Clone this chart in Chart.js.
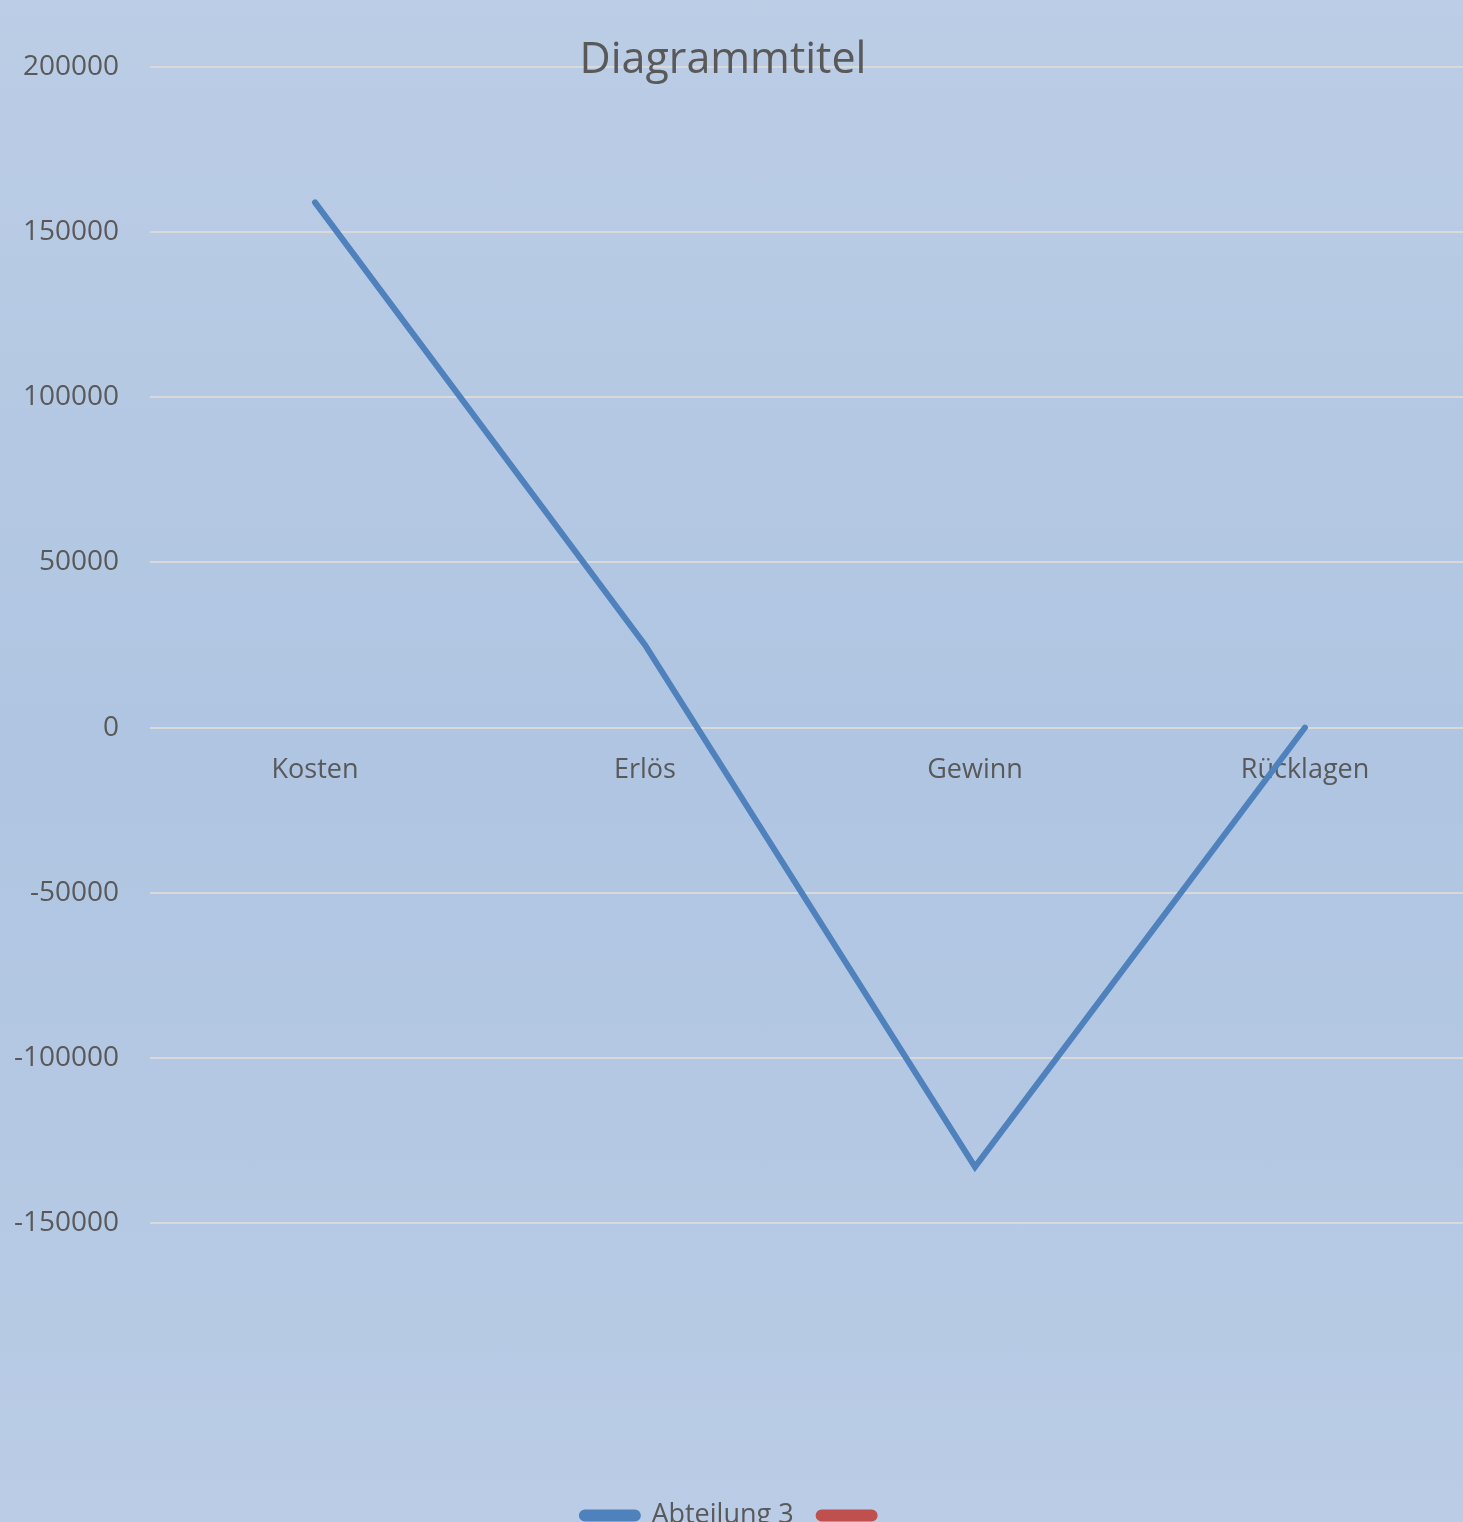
<!DOCTYPE html>
<html>
<head>
<meta charset="utf-8">
<script src="https://cdn.jsdelivr.net/npm/chart.js@4.4.0/dist/chart.umd.min.js"></script>
<style>
  html, body { margin: 0; padding: 0; overflow: hidden; width: 1463px; height: 1522px; }
  body { background: linear-gradient(to bottom, #bccde6 0%, #afc5e1 50%, #bacce6 100%); position: relative; }
  #wrap { position: absolute; left: 0; top: 0; width: 1470px; height: 1539px; }
  #title { position: absolute; left: 0; width: 1446px; top: 28px; text-align: center;
           font-family: "Open Sans", sans-serif; font-size: 43px; color: #595959; z-index: 2; line-height: 58px; }
</style>
</head>
<body>
<div id="title">Diagrammtitel</div>
<div id="wrap"><canvas id="c" width="1470" height="1539"></canvas></div>
<script>
const categories = ["Kosten", "Erlös", "Gewinn", "Rücklagen"];
const seriesNames = ["Abteilung 3", ""];
const abteilung3 = [159000, 25000, -133000, 0];
const series2 = [null, null, null, null];
const yMin = -150000, yMax = 200000, yStep = 50000;

const FONT = "'Open Sans', sans-serif";
const TEXT = "#595959";

new Chart(document.getElementById("c"), {
  type: "line",
  data: {
    labels: categories,
    datasets: [
      { label: seriesNames[0], data: abteilung3, borderColor: "#4f81bd", backgroundColor: "#4f81bd",
        borderWidth: 6, pointRadius: 0, tension: 0, borderCapStyle: "round", borderJoinStyle: "miter" },
      { label: seriesNames[1], data: series2, borderColor: "#c0504d", backgroundColor: "#c0504d",
        borderWidth: 6, pointRadius: 0 }
    ]
  },
  options: {
    responsive: false,
    animation: false,
    layout: { padding: { top: 67, left: 0, right: 0, bottom: 0 } },
    plugins: {
      title: { display: false },
      tooltip: { enabled: false },
      legend: {
        position: "bottom",
        title: { display: true, text: "", font: { size: 10, lineHeight: 1.2 }, padding: { top: 242, bottom: 0 } },
        labels: {
          font: { family: FONT, size: 27 },
          color: TEXT,
          boxWidth: 56, boxHeight: 6, padding: 25,
          useBorderRadius: true, borderRadius: 3
        }
      }
    },
    scales: {
      x: {
        position: { y: 0 },
        offset: true,
        grid: { display: false, drawTicks: false },
        border: { display: false },
        ticks: { font: { family: FONT, size: 27 }, color: TEXT, padding: 27, maxRotation: 0 }
      },
      y: {
        min: yMin, max: yMax,
        grid: { color: "#d9d9d9", lineWidth: 2, drawTicks: false },
        border: { display: false },
        ticks: { stepSize: yStep, font: { family: FONT, size: 28 }, color: TEXT, padding: 31,
                 callback: (v) => String(v) },
        afterFit: (s) => { s.width = 150; }
      }
    }
  }
});
</script>
</body>
</html>
